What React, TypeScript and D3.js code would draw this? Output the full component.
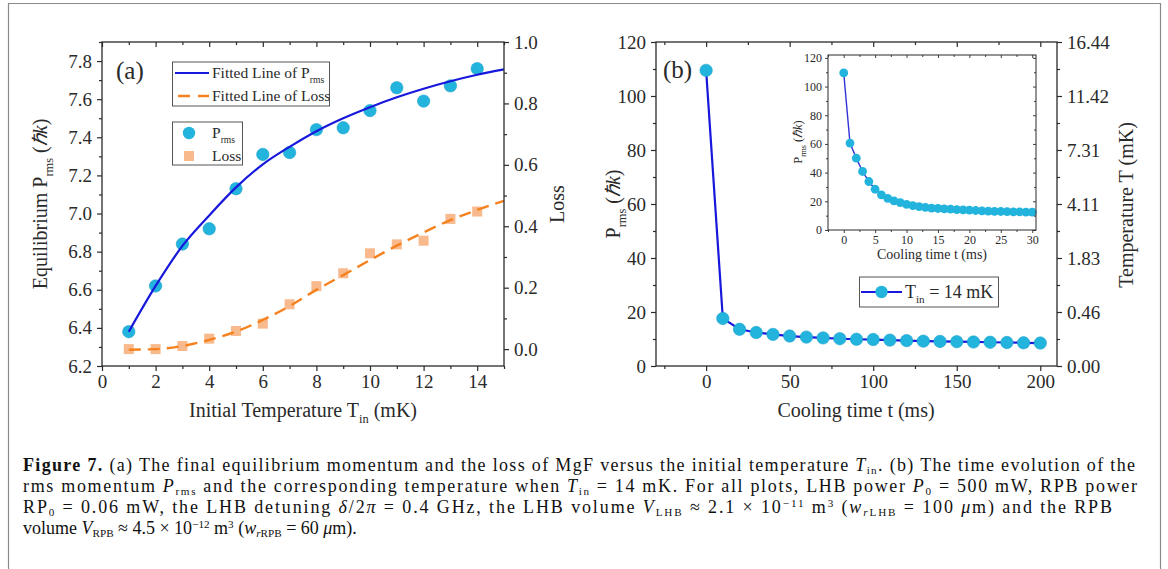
import React, { useEffect, useRef } from "react";
import * as d3 from "d3";

// ---- panel (a): equilibrium momentum and loss vs initial temperature
const tinValues = [1, 2, 3, 4, 5, 6, 7, 8, 9, 10, 11, 12, 13, 14];
const prmsValues = [6.38, 6.62, 6.84, 6.92, 7.13, 7.31, 7.32, 7.44, 7.45, 7.54, 7.66, 7.59, 7.67, 7.76];
const lossValues = [0.0, 0.0, 0.01, 0.034, 0.059, 0.083, 0.146, 0.205, 0.247, 0.312, 0.341, 0.353, 0.424, 0.448];
// fitted curves
const fitTin = [1, 2, 3, 4, 5, 6, 7, 8, 9, 10, 11, 12, 13, 14, 15];
const prmsFit = [6.38, 6.62, 6.83, 6.99, 7.137, 7.258, 7.35, 7.432, 7.5, 7.558, 7.61, 7.655, 7.694, 7.728, 7.756];
const lossFit = [-0.002, 0.0, 0.01, 0.03, 0.057, 0.095, 0.14, 0.193, 0.241, 0.29, 0.337, 0.38, 0.42, 0.453, 0.483];
const aLeftTicks = [6.2, 6.4, 6.6, 6.8, 7.0, 7.2, 7.4, 7.6, 7.8];
const aRightTicks = [0.0, 0.2, 0.4, 0.6, 0.8, 1.0];
const aXTicks = [0, 2, 4, 6, 8, 10, 12, 14];

// ---- panel (b): time evolution at T_in = 14 mK
const coolTime = [0, 10, 20, 30, 40, 50, 60, 70, 80, 90, 100, 110, 120, 130, 140, 150, 160, 170, 180, 190, 200];
const coolPrms = [109.5, 17.6, 13.6, 12.4, 11.7, 11.1, 10.7, 10.4, 10.1, 9.9, 9.8, 9.6, 9.4, 9.2, 9.1, 9.0, 8.9, 8.8, 8.7, 8.6, 8.5];
const bLeftTicks = [0, 20, 40, 60, 80, 100, 120];
const tempTickLabels = ["0.00", "0.46", "1.83", "4.11", "7.31", "11.42", "16.44"];
const bXTicks = [0, 50, 100, 150, 200];

// ---- inset: first 30 ms
const insetTime = [0, 1, 2, 3, 4, 5, 6, 7, 8, 9, 10, 11, 12, 13, 14, 15, 16, 17, 18, 19, 20, 21, 22, 23, 24, 25, 26, 27, 28, 29, 30];
const insetPrms = [109.5, 60.6, 50.1, 40.8, 33.8, 28.4, 24.5, 22.1, 20.3, 19.1, 17.9, 17.0, 16.3, 15.8, 15.3, 15.0, 14.7, 14.5, 14.2, 14.0, 13.8, 13.6, 13.4, 13.2, 13.0, 12.9, 12.8, 12.7, 12.6, 12.5, 12.4];
const insetYTicks = [0, 20, 40, 60, 80, 100, 120];
const insetXTicks = [0, 5, 10, 15, 20, 25, 30];

const serif = "'Liberation Serif', 'Times New Roman', serif";
const ink = "#2a2a2a";
const cyan = "#22b4dc";
const blue = "#1818dc";
const orange = "#f5821f";
const peach = "#f8b98c";

type Part = [string, string?];

// i = italic, B = bold, _ = subscript, ^ = superscript
const rich = (sel: any, parts: Part[], size: number, subShift = 0.3, supShift = 0.38) => {
  let shift = 0;
  parts.forEach(([t, s = ""]) => {
    const sp = sel.append("tspan").text(t);
    let target = 0;
    if (s.includes("_")) { target = size * subShift; sp.attr("font-size", size * 0.62); }
    if (s.includes("^")) { target = -size * supShift; sp.attr("font-size", size * 0.62); }
    if (s.includes("i")) sp.attr("font-style", "italic");
    if (s.includes("B")) sp.attr("font-weight", "bold");
    if (target !== shift) { sp.attr("dy", target - shift); shift = target; }
  });
};

const axis = (parent: any, scale: any, side: string, values: number[], at: number,
  len: number, inward: boolean, fmt: ((d: any, i: number) => string) | null, font = 19, pad = 5) => {
  const make = side === "left" ? d3.axisLeft : side === "right" ? d3.axisRight : side === "top" ? d3.axisTop : d3.axisBottom;
  const horiz = side === "top" || side === "bottom";
  const g = parent.append("g")
    .attr("transform", horiz ? `translate(0,${at})` : `translate(${at},0)`)
    .call(make(scale).tickValues(values).tickSizeInner(inward ? -len : len).tickSizeOuter(0)
      .tickPadding(pad).tickFormat(fmt ? (fmt as any) : () => ""));
  g.select(".domain").remove();
  g.selectAll("line").attr("stroke", ink).attr("stroke-width", 1.2);
  g.selectAll("text").attr("font-family", serif).attr("font-size", font).attr("fill", ink);
  return g;
};

const minorBetween = (ticks: number[], lo: number, hi: number) => {
  const step = ticks[1] - ticks[0];
  const out: number[] = [];
  for (let k = -1; k < ticks.length; k++) {
    const v = ticks[0] + (k + 0.5) * step;
    if (v >= lo - 1e-9 && v <= hi + 1e-9) out.push(+v.toFixed(6));
  }
  return out;
};

const frame = (g: any, x0: number, y0: number, x1: number, y1: number, w = 1.3) => {
  g.append("rect").attr("x", x0).attr("y", y0).attr("width", x1 - x0).attr("height", y1 - y0)
    .attr("fill", "none").attr("stroke", ink).attr("stroke-width", w);
};

const label = (g: any, x: number, y: number, parts: Part[], size: number, anchor = "middle", rotate = 0) => {
  const t = g.append("text").attr("font-family", serif).attr("font-size", size).attr("fill", ink)
    .attr("text-anchor", anchor)
    .attr("transform", `translate(${x},${y}) rotate(${rotate})`);
  rich(t, parts, size);
  return t;
};

const App = () => {
  const ref = useRef<SVGSVGElement>(null);

  useEffect(() => {
    drawChart();
  }, []);

  const drawChart = () => {
    const svg = d3.select(ref.current);
    svg.selectAll("*").remove();
    svg.append("rect").attr("width", 1168).attr("height", 569).attr("fill", "#fff");
    svg.append("path").attr("d", "M8.5,569 V3.5 H1160.5 V569").attr("fill", "none").attr("stroke", "#8a8a8a").attr("stroke-width", 1.2);

    // ===== panel (a)
    const a = svg.append("g");
    const ax = d3.scaleLinear().domain([0, 15]).range([102, 504]);
    const ayL = d3.scaleLinear().domain([6.2, 7.9]).range([366, 42]);
    const ayR = d3.scaleLinear().domain([-0.055, 1.0]).range([366, 42]);

    const sq = 10;
    a.selectAll(".loss").data(tinValues).enter().append("rect")
      .attr("x", (d, i) => ax(d) - sq / 2).attr("y", (d, i) => ayR(lossValues[i]) - sq / 2)
      .attr("width", sq).attr("height", sq).attr("fill", peach);
    a.selectAll(".prms").data(tinValues).enter().append("circle")
      .attr("cx", (d) => ax(d)).attr("cy", (d, i) => ayL(prmsValues[i]))
      .attr("r", 6.2).attr("fill", cyan).attr("stroke", "#1ba3cc").attr("stroke-width", 0.6);

    const fitL = d3.line<number>().x((d) => ax(d)).y((d, i) => ayL(prmsFit[i])).curve(d3.curveMonotoneX);
    const fitR = d3.line<number>().x((d) => ax(d)).y((d, i) => ayR(lossFit[i])).curve(d3.curveMonotoneX);
    a.append("path").attr("d", fitR(fitTin)).attr("fill", "none").attr("stroke", orange)
      .attr("stroke-width", 2.4).attr("stroke-dasharray", "12 7");
    a.append("path").attr("d", fitL(fitTin)).attr("fill", "none").attr("stroke", blue).attr("stroke-width", 2.2);

    frame(a, 102, 42, 504, 366);
    axis(a, ayL, "left", aLeftTicks, 102, 5, false, (d) => d3.format(".1f")(d));
    axis(a, ayL, "left", minorBetween(aLeftTicks, 6.2, 7.9), 102, 3, false, null);
    axis(a, ayR, "right", aRightTicks, 504, 5, false, (d) => d3.format(".1f")(d));
    axis(a, ayR, "right", minorBetween(aRightTicks, -0.055, 1.0), 504, 3, false, null);
    axis(a, ax, "bottom", aXTicks, 366, 5, false, (d) => String(d), 19, 4);
    axis(a, ax, "bottom", minorBetween(aXTicks, 0, 15), 366, 3, false, null);
    axis(a, ax, "top", aXTicks, 42, 5, true, null);
    axis(a, ax, "top", minorBetween(aXTicks, 0, 15), 42, 3, true, null);

    label(a, 47, 204, [["Equilibrium P"], ["rms", "_"], [" ("], ["ℏk", "i"], [")"]], 20, "middle", -90);
    label(a, 303, 417, [["Initial Temperature T"], ["in", "_"], [" (mK)"]], 20);
    label(a, 564, 204, [["Loss"]], 20, "middle", -90);
    label(a, 116, 79, [["(a)"]], 25, "start");

    // legend: fitted lines
    const lg1 = a.append("g");
    lg1.append("rect").attr("x", 172.5).attr("y", 62).attr("width", 157).attr("height", 44)
      .attr("fill", "#fff").attr("stroke", "#555").attr("stroke-width", 1);
    lg1.append("line").attr("x1", 175).attr("x2", 209).attr("y1", 73).attr("y2", 73)
      .attr("stroke", blue).attr("stroke-width", 2.2);
    lg1.append("line").attr("x1", 175).attr("x2", 209).attr("y1", 96).attr("y2", 96)
      .attr("stroke", orange).attr("stroke-width", 2.4).attr("stroke-dasharray", "12 8").attr("stroke-dashoffset", -3);
    label(lg1, 212, 78, [["Fitted Line of P"], ["rms", "_"]], 15.5, "start");
    label(lg1, 212, 101, [["Fitted Line of Loss"]], 15.5, "start");

    // legend: symbols
    const lg2 = a.append("g");
    lg2.append("rect").attr("x", 172.5).attr("y", 122).attr("width", 70).attr("height", 43)
      .attr("fill", "#fff").attr("stroke", "#555").attr("stroke-width", 1);
    lg2.append("circle").attr("cx", 189).attr("cy", 133).attr("r", 6.2).attr("fill", cyan);
    lg2.append("rect").attr("x", 189 - sq / 2).attr("y", 156 - sq / 2).attr("width", sq).attr("height", sq).attr("fill", peach);
    label(lg2, 212, 138, [["P"], ["rms", "_"]], 15.5, "start");
    label(lg2, 212, 161, [["Loss"]], 15.5, "start");

    // ===== panel (b)
    const b = svg.append("g");
    const bx = d3.scaleLinear().domain([-30, 210]).range([656, 1057]);
    const by = d3.scaleLinear().domain([0, 120]).range([366, 42]);

    const mainLine = d3.line<number>().x((d) => bx(d)).y((d, i) => by(coolPrms[i]));
    b.append("path").attr("d", mainLine(coolTime)).attr("fill", "none").attr("stroke", blue).attr("stroke-width", 2.2);
    b.selectAll(".pt").data(coolTime).enter().append("circle")
      .attr("cx", (d) => bx(d)).attr("cy", (d, i) => by(coolPrms[i]))
      .attr("r", 6.2).attr("fill", cyan).attr("stroke", "#1ba3cc").attr("stroke-width", 0.6);

    frame(b, 656, 42, 1057, 366);
    axis(b, by, "left", bLeftTicks, 656, 5, false, (d) => String(d));
    axis(b, by, "left", minorBetween(bLeftTicks, 0, 120), 656, 3, false, null);
    axis(b, by, "right", bLeftTicks, 1057, 5, false, (d, i) => tempTickLabels[i]);
    axis(b, by, "right", minorBetween(bLeftTicks, 0, 120), 1057, 3, false, null);
    axis(b, bx, "bottom", bXTicks, 366, 5, false, (d) => String(d), 19, 4);
    axis(b, bx, "bottom", minorBetween(bXTicks, -30, 210), 366, 3, false, null);
    axis(b, bx, "top", bXTicks, 42, 5, true, null);
    axis(b, bx, "top", minorBetween(bXTicks, -30, 210), 42, 3, true, null);

    label(b, 620, 204, [["P"], ["rms", "_"], [" ("], ["ℏk", "i"], [")"]], 20, "middle", -90);
    label(b, 856, 417, [["Cooling time t (ms)"]], 20);
    label(b, 1133, 205, [["Temperature T (mK)"]], 20, "middle", -90);
    label(b, 663, 78, [["(b)"]], 25, "start");

    // legend (b)
    const lg3 = b.append("g");
    lg3.append("rect").attr("x", 859.5).attr("y", 277).attr("width", 139).attr("height", 30)
      .attr("fill", "#fff").attr("stroke", "#555").attr("stroke-width", 1);
    lg3.append("line").attr("x1", 861).attr("x2", 902).attr("y1", 292).attr("y2", 292).attr("stroke", blue).attr("stroke-width", 2.2);
    lg3.append("circle").attr("cx", 881.5).attr("cy", 292).attr("r", 6.2).attr("fill", cyan);
    label(lg3, 905, 298, [["T"], ["in", "_"], [" = 14 mK"]], 18, "start");

    // inset
    const ins = b.append("g");
    const ix = d3.scaleLinear().domain([-2.5, 30.6]).range([828, 1036]);
    const iy = d3.scaleLinear().domain([0, 122]).range([230, 55]);
    const insLine = d3.line<number>().x((d) => ix(d)).y((d, i) => iy(insetPrms[i]));
    ins.append("path").attr("d", insLine(insetTime)).attr("fill", "none").attr("stroke", "#3434d8").attr("stroke-width", 1.4);
    ins.selectAll(".ipt").data(insetTime).enter().append("circle")
      .attr("cx", (d) => ix(d)).attr("cy", (d, i) => iy(insetPrms[i]))
      .attr("r", 4.4).attr("fill", cyan);
    frame(ins, 828, 55, 1036, 230, 1);
    axis(ins, iy, "left", insetYTicks, 828, 3, false, (d) => String(d), 12, 3);
    axis(ins, iy, "left", minorBetween(insetYTicks, 0, 122), 828, 2, false, null);
    axis(ins, iy, "right", insetYTicks, 1036, 3, true, null);
    axis(ins, iy, "right", minorBetween(insetYTicks, 0, 122), 1036, 2, true, null);
    axis(ins, ix, "bottom", insetXTicks, 230, 3, false, (d) => String(d), 12, 2);
    axis(ins, ix, "bottom", minorBetween(insetXTicks, -2.5, 30.6), 230, 2, false, null);
    axis(ins, ix, "top", insetXTicks, 55, 3, true, null);
    axis(ins, ix, "top", minorBetween(insetXTicks, -2.5, 30.6), 55, 2, true, null);
    ins.selectAll("line").attr("stroke-width", 0.9);
    label(ins, 932, 259, [["Cooling time t (ms)"]], 14);
    label(ins, 802, 142, [["P"], ["rms", "_"], [" ("], ["ℏk", "i"], [")"]], 12.5, "middle", -90);

    // ===== caption
    const cap = svg.append("g");
    const capSize = 18;
    const capLines: { parts: Part[]; y: number; len?: number }[] = [
      {
        y: 471, len: 1112, parts: [["Figure 7.", "B"], [" (a) The final equilibrium momentum and the loss of MgF versus the initial temperature "],
          ["T", "i"], ["in", "_"], [". (b) The time evolution of the"]],
      },
      {
        y: 492, len: 1114, parts: [["rms momentum "], ["P", "i"], ["rms", "_"], [" and the corresponding temperature when "], ["T", "i"], ["in", "_"],
          [" = 14 mK. For all plots, LHB power "], ["P", "i"], ["0", "_"], [" = 500 mW, RPB power"]],
      },
      {
        y: 513, len: 1089, parts: [["RP"], ["0", "_"], [" = 0.06 mW, the LHB detuning "], ["δ", "i"], ["/2"], ["π", "i"], [" = 0.4 GHz, the LHB volume "],
          ["V", "i"], ["LHB", "_"], [" ≈ 2.1 × 10"], ["−11", "^"], [" m"], ["3", "^"], [" ("], ["w", "i"], ["r", "i_"], ["LHB", "_"],
          [" = 100 "], ["μ", "i"], ["m) and the RPB"]],
      },
      {
        y: 534, parts: [["volume "], ["V", "i"], ["RPB", "_"], [" ≈ 4.5 × 10"], ["−12", "^"], [" m"], ["3", "^"], [" ("], ["w", "i"], ["r", "i_"],
          ["RPB", "_"], [" = 60 "], ["μ", "i"], ["m)."]],
      },
    ];
    capLines.forEach((ln) => {
      const t = cap.append("text").attr("x", 23).attr("y", ln.y).attr("font-family", serif)
        .attr("font-size", capSize).attr("fill", "#111");
      if (ln.len) t.attr("textLength", ln.len).attr("lengthAdjust", "spacing");
      rich(t, ln.parts, capSize, 0.18, 0.32);
    });
  };

  return (
    <svg ref={ref} width={1168} height={569} style={{ position: "absolute", left: 0, top: 0 }} />
  );
};

export default App;
